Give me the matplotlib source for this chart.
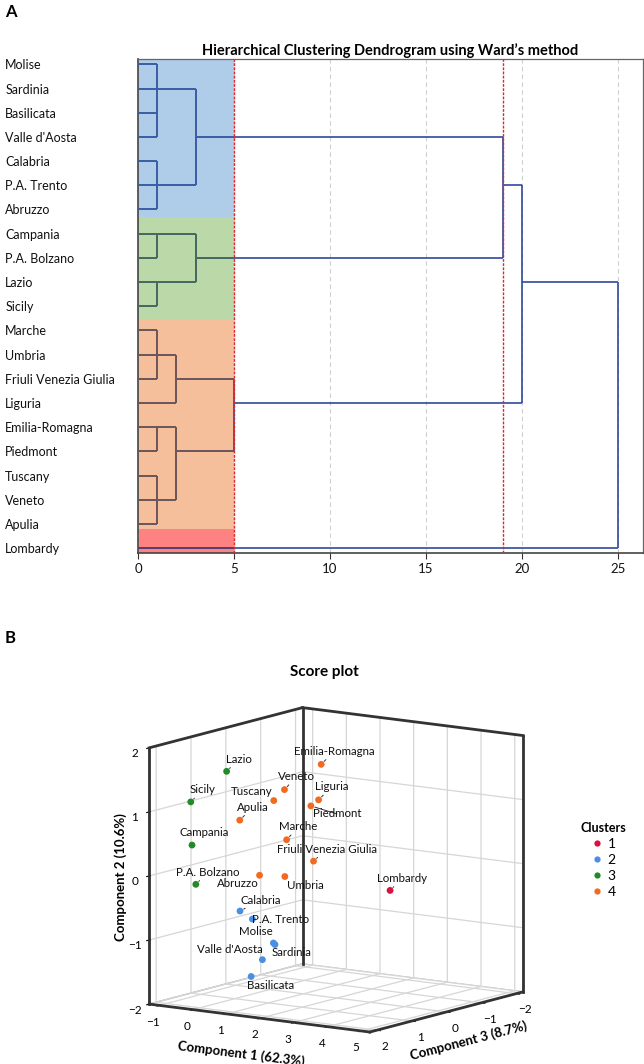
import math
import matplotlib
matplotlib.use("Agg")
import matplotlib.pyplot as plt
from matplotlib.collections import LineCollection
from matplotlib.patches import Rectangle
from matplotlib.lines import Line2D
from mpl_toolkits.mplot3d import proj3d

plt.rcParams['font.family'] = ['Lato', 'DejaVu Sans']
plt.rcParams['grid.color'] = '#d6d6d6'
plt.rcParams['grid.linewidth'] = 0.9
plt.rcParams['grid.linestyle'] = '-'

# ---------------- Data: dendrogram (panel A) ----------------
regions = ["Molise", "Sardinia", "Basilicata", "Valle d'Aosta", "Calabria", "P.A. Trento",
           "Abruzzo", "Campania", "P.A. Bolzano", "Lazio", "Sicily", "Marche", "Umbria",
           "Friuli Venezia Giulia", "Liguria", "Emilia-Romagna", "Piedmont", "Tuscany",
           "Veneto", "Apulia", "Lombardy"]
dendro_cluster = [2, 2, 2, 2, 2, 2, 2, 3, 3, 3, 3, 4, 4, 4, 4, 4, 4, 4, 4, 4, 1]
merge_ids = ["c1", "c2", "c3", "c4", "c5", "c6", "c7", "c8", "c9", "c10", "c11", "c12",
             "c13", "c14", "c15"]
merge_children = [["Molise", "Sardinia", "Basilicata", "Valle d'Aosta"],
                  ["Calabria", "P.A. Trento", "Abruzzo"],
                  ["c1", "c2"],
                  ["Campania", "P.A. Bolzano"],
                  ["Lazio", "Sicily"],
                  ["c4", "c5"],
                  ["Marche", "Umbria", "Friuli Venezia Giulia"],
                  ["c7", "Liguria"],
                  ["Emilia-Romagna", "Piedmont"],
                  ["Tuscany", "Veneto", "Apulia"],
                  ["c9", "c10"],
                  ["c8", "c11"],
                  ["c3", "c6"],
                  ["c13", "c12"],
                  ["c14", "Lombardy"]]
merge_dist = [1, 1, 3, 1, 1, 3, 1, 2, 1, 1, 2, 5, 19, 20, 25]
cut_levels = [5, 19]
x_ticks_A = [0, 5, 10, 15, 20, 25]

# ---------------- Data: score plot (panel B) ----------------
score_regions = regions
comp1 = [-1.13, -0.98, -1.17, -1.25, -0.57, -1.03, -0.61, -0.65, -0.95, -0.45, -0.79,
         -0.53, -0.79, -0.56, -0.10, 1.84, 1.43, 0.33, 0.44, -0.37, 4.92]
comp2 = [-1.52, -1.52, -1.96, -1.76, -0.77, -1.04, -0.30, 0.44, -0.25, 1.49, 1.09,
         0.16, -0.46, -0.29, 0.74, 1.68, 0.99, 1.00, 1.15, 0.69, 0.06]
comp3 = [-1.2, -1.1, -0.6, -1.0, 0.3, -0.5, -0.3, 1.6, 1.2, 0.8, 1.5,
         -1.0, -1.2, -1.8, -1.5, 0.3, 0.2, 0.2, 0.0, 0.5, 1.3]
score_cluster = [2, 2, 2, 2, 2, 2, 4, 3, 3, 3, 3, 4, 4, 4, 4, 4, 4, 4, 4, 4, 1]
cluster_names = [1, 2, 3, 4]

# ---------------- Styles ----------------
cluster_colors = {1: '#d8123c', 2: '#4a8fe2', 3: '#238a2a', 4: '#f26a1f'}
band_colors = {2: '#afcce9', 3: '#bbd8a8', 4: '#f6bf9b', 1: '#ff8282'}
band_line_colors = {2: '#3c5fa6', 3: '#476d55', 4: '#72564e', 1: '#5a3a6a'}
link_color = '#2f4a9c'
band_edges = [-0.22, 6.31, 10.52, 19.2, 20.2]

# label offsets (pixels) and whether a leader line is drawn
label_offsets = {
    "Lazio": (12, 12, True), "Sicily": (12, 12, True), "Tuscany": (-22, 9, False),
    "Veneto": (12, 13, True), "Apulia": (13, 13, True), "Emilia-Romagna": (13, 13, True),
    "Liguria": (13, 13, True), "Piedmont": (26, -8, True), "Marche": (12, 13, True),
    "Friuli Venezia Giulia": (13, 12, True), "Lombardy": (12, 12, True),
    "Campania": (12, 13, False), "P.A. Bolzano": (12, 12, True), "Abruzzo": (-22, -8, False),
    "Umbria": (21, -9, False), "Calabria": (21, 11, True), "P.A. Trento": (28, 0, False),
    "Molise": (-18, 11, False), "Sardinia": (17, -8, False), "Valle d'Aosta": (-33, 10, False),
    "Basilicata": (19, -9, False)}

W, H = 644, 1064
fig = plt.figure(figsize=(W / 100, H / 100), dpi=100)

# ================= Panel A =================
axA = fig.add_axes([138 / W, 1 - 553 / H, 505 / W, 494 / H])
axA.set_xlim(0, 26.3)
axA.set_ylim(20.2, -0.22)

pos = {name: (0.0, float(i)) for i, name in enumerate(regions)}
segments = []
for mid, children, d in zip(merge_ids, merge_children, merge_dist):
    rows = [pos[c][1] for c in children]
    for c in children:
        cx, cy = pos[c]
        segments.append([(cx, cy), (d, cy)])
    segments.append([(d, min(rows)), (d, max(rows))])
    pos[mid] = (d, math.floor((min(rows) + max(rows)) / 2))

axA.add_collection(LineCollection(segments, colors=link_color, linewidths=1.2, zorder=2))

groups = []
for i, c in enumerate(dendro_cluster):
    if not groups or groups[-1][0] != c:
        groups.append([c, i])
for k, (c, start) in enumerate(groups):
    y0, y1 = band_edges[k], band_edges[k + 1]
    rect = Rectangle((0, y0), cut_levels[0], y1 - y0, facecolor=band_colors[c],
                     edgecolor='none', zorder=1)
    axA.add_patch(rect)
    lc = LineCollection(segments, colors=band_line_colors[c], linewidths=1.2, zorder=3)
    axA.add_collection(lc)
    lc.set_clip_path(rect)

for lv in cut_levels:
    axA.axvline(lv, color='#e0282a', lw=1.0, ls=(0, (2, 1)), zorder=5)

axA.set_xticks(x_ticks_A)
axA.grid(axis='x', color='#cfcfcf', lw=0.8, ls=(0, (4, 3)), zorder=0)
axA.set_yticks(range(len(regions)))
axA.set_yticklabels(regions)
for t in axA.get_yticklabels():
    t.set_horizontalalignment('left')
axA.tick_params(axis='y', length=0, pad=95.5, labelsize=9, labelcolor='#111111')
axA.tick_params(axis='x', length=4, width=0.8, labelsize=9.5, pad=3, color='#333333',
                labelcolor='#111111')
for s in ['left', 'bottom']:
    axA.spines[s].set_color('#444444')
    axA.spines[s].set_linewidth(1.2)
for s in ['top', 'right']:
    axA.spines[s].set_color('#666666')
    axA.spines[s].set_linewidth(0.9)
axA.set_title("Hierarchical Clustering Dendrogram using Ward\u2019s method",
              fontsize=10.5, fontweight='bold', pad=3)

fig.text(5 / W, 1 - 4 / H, 'A', fontsize=12, fontweight='bold', va='top', ha='left')
fig.text(5 / W, 1 - 630 / H, 'B', fontsize=12, fontweight='bold', va='top', ha='left')

# ================= Panel B =================
cx3, cy3, size3 = 330.5, 875.5, 420
ax3 = fig.add_axes([(cx3 - size3 / 2) / W, (H - cy3 - size3 / 2) / H, size3 / W, size3 / H],
                   projection='3d')
ax3.set_proj_type('ortho')
ax3.view_init(elev=10.5, azim=34.8)
xlim3, ylim3, zlim3 = (-2.2, 2.2), (-1.3, 5.25), (-2.0, 2.0)
ax3.set_xlim(*xlim3)
ax3.set_ylim(*ylim3)
ax3.set_zlim(*zlim3)
ax3.set_box_aspect((1, 1, 0.97), zoom=1.065)
ax3.set_xticks([-2, -1, 0, 1, 2])
ax3.set_yticks([-1, 0, 1, 2, 3, 4, 5])
ax3.set_zticks([-2, -1, 0, 1, 2])
for axis in (ax3.xaxis, ax3.yaxis, ax3.zaxis):
    axis.set_pane_color((1, 1, 1, 1))
    axis.pane.set_edgecolor('#bdbdbd')
ax3.tick_params(labelsize=8.5, pad=-2)

x0, x1 = xlim3
y0, y1 = ylim3
z0, z1 = zlim3
edges = [[(x1, y0, z0), (x1, y0, z1)], [(x0, y0, z0), (x0, y0, z1)],
         [(x0, y1, z0), (x0, y1, z1)], [(x1, y0, z1), (x0, y0, z1)],
         [(x0, y0, z1), (x0, y1, z1)], [(x1, y0, z0), (x1, y1, z0)],
         [(x1, y1, z0), (x0, y1, z0)]]
for e in edges:
    ax3.plot([e[0][0], e[1][0]], [e[0][1], e[1][1]], [e[0][2], e[1][2]],
             color='#333333', lw=2.0)

pt_colors = [cluster_colors[c] for c in score_cluster]
ax3.scatter(comp3, comp1, comp2, c=pt_colors, s=24, depthshade=False,
            edgecolors='none', alpha=1)

M = ax3.get_proj()
for name, a, b, c in zip(score_regions, comp3, comp1, comp2):
    px, py, _ = proj3d.proj_transform(a, b, c, M)
    dx, dy, leader = label_offsets[name]
    kw = {}
    if leader:
        kw['arrowprops'] = dict(arrowstyle='-', color='#333333', lw=0.7,
                                shrinkA=0, shrinkB=3)
    ax3.annotate(name, xy=(px, py), xytext=(dx, dy), textcoords='offset pixels',
                 ha='center', va='center', fontsize=8.3, color='#111111', **kw)

ax3.set_xlabel('Component 3 (8.7%)', fontsize=9.5, fontweight='bold', labelpad=-5)
ax3.set_ylabel('Component 1 (62.3%)', fontsize=9.5, fontweight='bold', labelpad=-2)
ax3.set_zlabel('Component 2 (10.6%)', fontsize=9.5, fontweight='bold', labelpad=-9)

fig.text(324 / W, 1 - 672 / H, 'Score plot', fontsize=11, fontweight='bold',
         ha='center', va='center')

handles = [Line2D([], [], ls='none', marker='o', markersize=4.5,
                  markerfacecolor=cluster_colors[c], markeredgecolor='none')
           for c in cluster_names]
leg = fig.legend(handles, [str(c) for c in cluster_names], title='Clusters',
                 loc='upper left', bbox_to_anchor=(568 / W, 1 - 809 / H), frameon=False,
                 handlelength=0.8, handletextpad=0.4, labelspacing=0.3, fontsize=10,
                 alignment='center', title_fontproperties={'weight': 'bold', 'size': 9})

fig.savefig('out.png', dpi=100)
